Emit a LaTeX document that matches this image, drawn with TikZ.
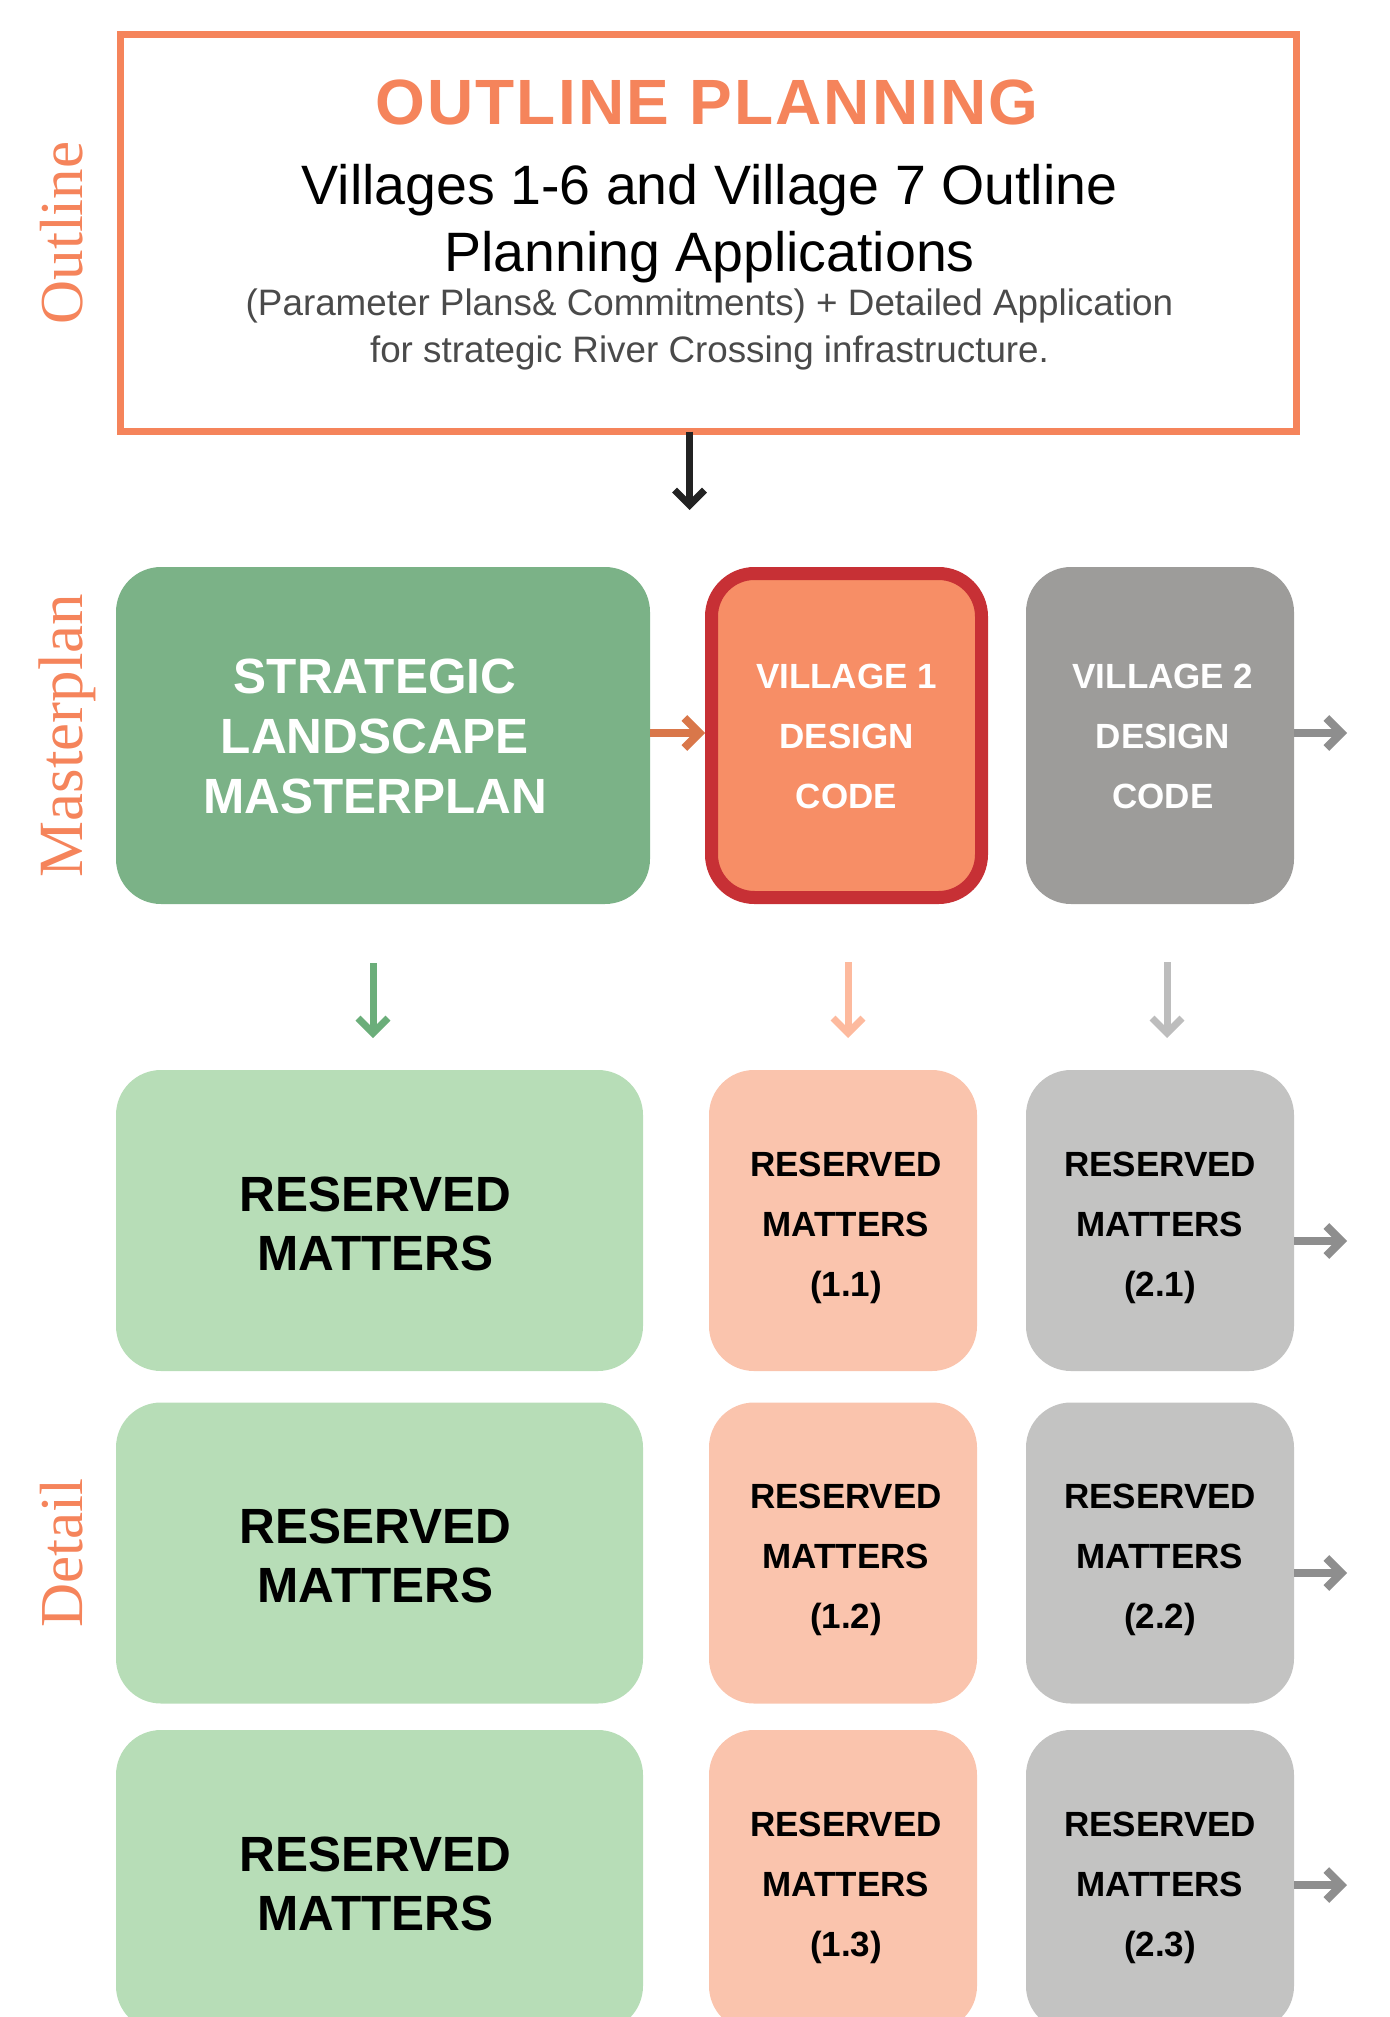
\documentclass[tikz,border=0pt]{standalone}
\usepackage{fontspec}
\setmainfont{Liberation Sans}
\newfontfamily\labelfont{Liberation Serif}
\newfontfamily\spacedfont[LetterSpace=3.4]{Liberation Sans}
\usetikzlibrary{arrows.meta}
\definecolor{coral}{HTML}{F5845B}
\definecolor{dgreen}{HTML}{7BB287}
\definecolor{vorange}{HTML}{F78E66}
\definecolor{vred}{HTML}{C73035}
\definecolor{vgrey}{HTML}{9D9C9A}
\definecolor{lgreen}{HTML}{B7DDB7}
\definecolor{lpink}{HTML}{FAC4AD}
\definecolor{lgrey}{HTML}{C3C3C2}
\definecolor{arrorange}{HTML}{D9774A}
\definecolor{arrgrey}{HTML}{8E8E8E}
\definecolor{arrgreen}{HTML}{6BAE7A}
\definecolor{arrpink}{HTML}{FDBA9E}
\definecolor{arrlgrey}{HTML}{BDBDBD}
\definecolor{arrdark}{HTML}{222222}
\definecolor{subgrey}{HTML}{4A4A4A}
\tikzset{
  box/.style={rectangle, inner sep=0pt, outer sep=0pt, align=center},
  bigbox/.style={box, rounded corners=45pt, minimum height=337pt},
  rmbox/.style={box, rounded corners=45pt, minimum height=301pt},
  txt/.style={inner sep=0pt, align=center},
  bigtext/.style={txt, font=\bfseries\fontsize{49.5}{60}\selectfont},
  rmgtext/.style={txt, font=\bfseries\fontsize{49.5}{59}\selectfont},
  smalltext/.style={txt, font=\bfseries\fontsize{35}{60}\selectfont},
  sidelabel/.style={rotate=90, anchor=base, text=coral, inner sep=0pt},
  harrow/.style={line width=8pt, -{Straight Barb[length=15pt,width=30pt]}},
  varrow/.style={line width=7pt, -{Straight Barb[length=15pt,width=30pt]}},
}
\begin{document}
\begin{tikzpicture}[x=1pt,y=-1pt]
\useasboundingbox (0,0) rectangle (1389,2017);
\clip (0,0) rectangle (1389,2017);

% side labels
\node[sidelabel, font=\labelfont\fontsize{61}{61}\selectfont] (lbloutline) at (82,233) {Outline};
\node[sidelabel, font=\labelfont\fontsize{63}{63}\selectfont] (lblmaster) at (82,735.5) {Masterplan};
\node[sidelabel, font=\labelfont\fontsize{61}{61}\selectfont] (lbldetail) at (82,1553) {Detail};

% outline box
\node[box, draw=coral, line width=7pt, minimum width=1176pt, minimum height=397pt] (outline) at (708.5,233) {};
\node[anchor=base, inner sep=0pt, text=coral, font=\spacedfont\bfseries\fontsize{64}{64}\selectfont] (title) at (707,125) {OUTLINE PLANNING};
\node[anchor=base, inner sep=0pt, font=\fontsize{55.5}{55.5}\selectfont] (line1) at (709.5,205) {Villages 1-6 and Village 7 Outline};
\node[anchor=base, inner sep=0pt, font=\fontsize{55.5}{55.5}\selectfont] (line2) at (709.5,272) {Planning Applications};
\node[anchor=base, inner sep=0pt, text=subgrey, font=\fontsize{36.8}{36.8}\selectfont] (line3) at (709.5,316) {(Parameter Plans\& Commitments) + Detailed Application};
\node[anchor=base, inner sep=0pt, text=subgrey, font=\fontsize{36.8}{36.8}\selectfont] (line4) at (709.5,362) {for strategic River Crossing infrastructure.};

% masterplan row
\node[bigbox, fill=dgreen, minimum width=534pt] (slm) at (383,735.5) {};
\node[bigtext, text=white] (slmt) at ([xshift=-8pt,yshift=-1pt]slm.center) {STRATEGIC\\LANDSCAPE\\MASTERPLAN};
\node[box, rounded corners=43pt, draw=vred, line width=13pt, fill=vorange, minimum width=270pt, minimum height=324pt, outer sep=6.5pt] (v1) at (846.5,735.5) {};
\node[smalltext, text=white] (v1t) at ([yshift=-1pt]v1.center) {VILLAGE 1\\DESIGN\\CODE};
\node[bigbox, fill=vgrey, minimum width=268pt] (v2) at (1160,735.5) {};
\node[smalltext, text=white] (v2t) at ([xshift=3pt,yshift=-1pt]v2.center) {VILLAGE 2\\DESIGN\\CODE};

% reserved matters rows
\foreach \r/\y in {1/1220.5, 2/1553, 3/1880.5}{
  \node[rmbox, fill=lgreen, minimum width=527pt] (rmg\r) at (379.5,\y) {};
  \node[rmgtext] (rmg\r t) at ([xshift=-4pt,yshift=-3pt]rmg\r.center) {RESERVED\\MATTERS};
  \node[rmbox, fill=lpink, minimum width=268pt] (rmp\r) at (843,\y) {};
  \node[smalltext] (rmp\r t) at ([xshift=3pt,yshift=-7pt]rmp\r.center) {RESERVED\\MATTERS\\(1.\r)};
  \node[rmbox, fill=lgrey, minimum width=268pt] (rmr\r) at (1160,\y) {};
  \node[smalltext] (rmr\r t) at ([yshift=-7pt]rmr\r.center) {RESERVED\\MATTERS\\(2.\r)};
}

% helper coordinates
\coordinate (ax) at (689.5,0);
\coordinate (gx) at (373,0);
\coordinate (px) at (848,0);
\coordinate (qx) at (1167,0);
\coordinate (hy) at (0,733);
\coordinate (e0) at (1347,733);
\coordinate (e1) at (1347,1241);
\coordinate (e2) at (1347,1573);
\coordinate (e3) at (1347,1885);

% connectors
\draw[varrow, arrdark, shorten >=57pt] (ax |- outline.south) -- (ax |- slm.north);
\draw[harrow, arrorange] (slm.east |- hy) -- (v1.west |- hy);
\draw[harrow, arrgrey] (v2.east |- e0) -- (e0);

\draw[varrow, arrgreen, shorten <=59pt, shorten >=32pt] (gx |- slm.south) -- (gx |- rmg1.north);
\draw[varrow, arrpink, shorten <=58pt, shorten >=32pt] (px |- v1.south) -- (px |- rmp1.north);
\draw[varrow, arrlgrey, shorten <=58pt, shorten >=32pt] (qx |- v2.south) -- (qx |- rmr1.north);

\draw[harrow, arrgrey] (rmr1.east |- e1) -- (e1);
\draw[harrow, arrgrey] (rmr2.east |- e2) -- (e2);
\draw[harrow, arrgrey] (rmr3.east |- e3) -- (e3);
\end{tikzpicture}
\end{document}
